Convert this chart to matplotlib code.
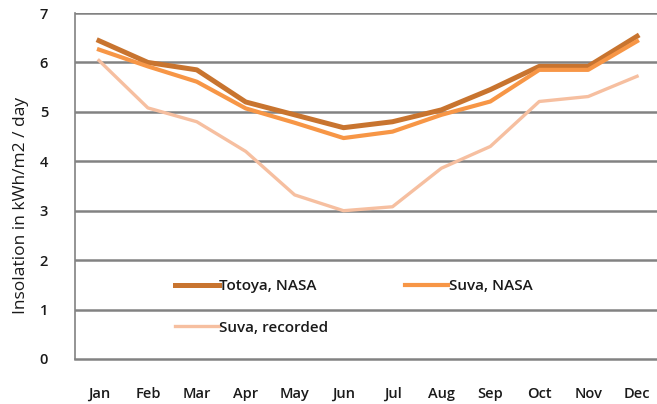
import numpy as np
import matplotlib
import matplotlib.pyplot as plt

matplotlib.use('Agg')

MONTHS = ['Jan', 'Feb', 'Mar', 'Apr', 'May', 'Jun',
          'Jul', 'Aug', 'Sep', 'Oct', 'Nov', 'Dec']
TOTOYA_NASA   = [6.44, 6.00, 5.85, 5.20, 4.94, 4.68, 4.80, 5.04, 5.45, 5.92, 5.92, 6.53]
SUVA_NASA     = [6.26, 5.92, 5.61, 5.07, 4.78, 4.47, 4.60, 4.94, 5.21, 5.85, 5.85, 6.43]
SUVA_RECORDED = [6.04, 5.08, 4.80, 4.20, 3.32, 3.00, 3.08, 3.86, 4.30, 5.21, 5.31, 5.72]
Y_TICKS = [0, 1, 2, 3, 4, 5, 6, 7]

GRID_C = '#828282'
TEXT_C = '#1a1a1a'

plt.rcParams['font.family'] = ['Open Sans', 'DejaVu Sans']

fig = plt.figure(figsize=(6.57, 4.04), dpi=100)
ax = fig.add_axes([0.1134, 0.1114, 0.8935, 0.8564])

x = np.arange(len(MONTHS))
l1, = ax.plot(x, TOTOYA_NASA, color='#c8742f', lw=3.6, label='Totoya, NASA',
              solid_joinstyle='round', zorder=3)
l2, = ax.plot(x, SUVA_NASA, color='#f79646', lw=3.0, label='Suva, NASA',
              solid_joinstyle='round', zorder=4)
l3, = ax.plot(x, SUVA_RECORDED, color='#f6bfa0', lw=2.4, label='Suva, recorded',
              solid_joinstyle='round', zorder=2)

ax.set_xlim(-0.5, len(MONTHS) - 0.5)
ax.set_ylim(0, 7)
ax.set_yticks(Y_TICKS)
ax.set_xticks(x)
ax.set_xticklabels(MONTHS)
ax.tick_params(length=0, labelsize=10.5, colors=TEXT_C)
ax.tick_params(axis='x', pad=20)
ax.tick_params(axis='y', pad=19)
for lab in ax.get_xticklabels() + ax.get_yticklabels():
    lab.set_fontweight('semibold')

for y in Y_TICKS[1:]:
    ax.axhline(y, color=GRID_C, lw=1.8, zorder=1)
for s in ['top', 'right']:
    ax.spines[s].set_visible(False)
ax.spines['bottom'].set_color(GRID_C)
ax.spines['bottom'].set_linewidth(1.8)
ax.spines['left'].set_color(GRID_C)
ax.spines['left'].set_linewidth(1.2)

ax.set_ylabel('Insolation in kWh/m2 / day', fontsize=12.5, color=TEXT_C)
ax.yaxis.set_label_coords(-0.077, 0.445)

# row-wise order: Totoya | Suva NASA, then Suva recorded
leg = ax.legend([l1, l3, l2], [l1.get_label(), l3.get_label(), l2.get_label()],
                ncol=2, loc='upper left', bbox_to_anchor=(0.148, 0.27),
                frameon=False, fontsize=11, handlelength=2.85,
                handletextpad=0.05, columnspacing=5.0, labelspacing=1.8)
for t in leg.get_texts():
    t.set_fontweight('semibold')
    t.set_color(TEXT_C)

fig.savefig('out.png', dpi=100)
